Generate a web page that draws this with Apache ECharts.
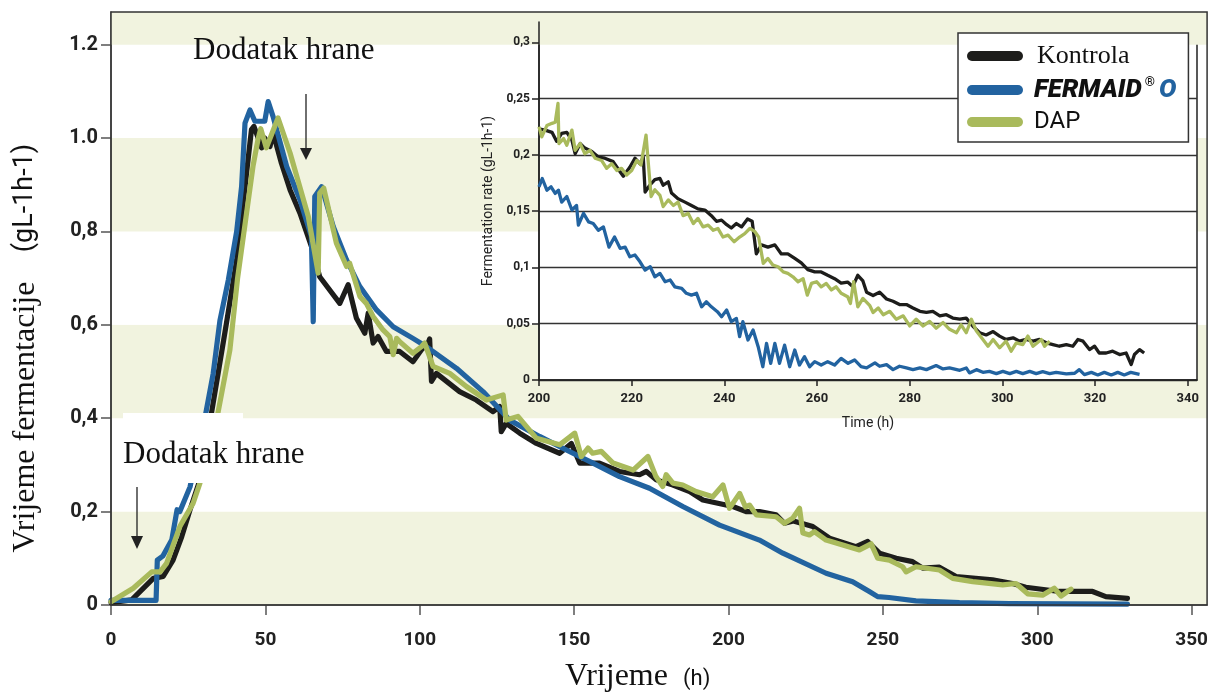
<!DOCTYPE html>
<html><head><meta charset="utf-8">
<script src="https://cdn.jsdelivr.net/npm/echarts@6/dist/echarts.min.js"></script>
<style>html,body{margin:0;padding:0;background:#fff}#c{width:1211px;height:695px}</style>
</head><body><div id="c"></div>
<script>
// ---------- main chart data (time h, rate g/L/h) ----------
const mainKontrolaT = [0,6.7,13.7,16.9,20.1,22.9,25.6,28.8,31.5,34.7,37.4,40.7,42.8,45.5,46.3,48.8,49.8,51.5,52.5,55.2,58,61.2,64.9,67.6,74.1,76.8,79.5,82.2,83.3,84.9,86.5,89.2,93.5,97.8,100.5,102.7,103.2,103.8,105.4,112.9,118.3,123.7,125.9,126.4,128,132.4,137.8,145.3,149.1,151.8,158.2,164.7,171.2,173.4,176.6,182,187.4,191.7,201.4,205.7,210,215.4,218.1,221,227.3,232.7,241.3,245.1,248.9,254.3,259.6,262.9,268.3,273.7,285.5,292,296.3,307.1,317.9,322.2,329.2];
const mainKontrolaV = [0.005,0.011,0.057,0.061,0.096,0.146,0.204,0.268,0.37,0.496,0.604,0.739,0.861,1.018,1.025,0.979,1.0,0.982,1.011,0.946,0.889,0.839,0.768,0.703,0.646,0.686,0.614,0.582,0.625,0.561,0.575,0.543,0.543,0.521,0.546,0.561,0.57,0.479,0.496,0.457,0.439,0.414,0.425,0.371,0.389,0.368,0.346,0.325,0.346,0.304,0.304,0.286,0.279,0.286,0.268,0.257,0.243,0.225,0.211,0.2,0.2,0.193,0.175,0.18,0.168,0.143,0.125,0.136,0.111,0.1,0.093,0.079,0.081,0.061,0.054,0.046,0.038,0.029,0.029,0.018,0.014];

const mainFermaidT = [0,14.6,15,16.8,19.7,21.4,22.3,25.6,30.4,33.1,35.3,38,40.7,42.3,43.4,45,46.6,49.8,50.9,52.5,56.9,61.2,64.9,65.5,66,68.2,72,76.3,80.6,86,91.4,97.8,102.2,111.9,120.5,129.1,138.8,147.5,156.1,164.7,174.4,185.2,197.1,210,217.6,231.6,240.2,245.6,248.3,252,260.7,274.8,290.9,329.2];
const mainFermaidV = [0.01,0.01,0.096,0.105,0.14,0.204,0.2,0.253,0.4,0.496,0.61,0.696,0.8,0.896,1.032,1.06,1.036,1.036,1.078,1.046,0.939,0.868,0.789,0.607,0.875,0.896,0.81,0.739,0.682,0.632,0.596,0.571,0.553,0.507,0.457,0.396,0.361,0.332,0.304,0.275,0.25,0.211,0.171,0.139,0.111,0.068,0.05,0.029,0.018,0.016,0.009,0.005,0.003,0.002];

const mainDapT = [0,7.2,13.2,15.9,18,22.3,26.6,28.8,34.2,38.5,41,43.9,46,47.7,48.5,50.3,54.1,58,63.9,67.1,67.6,68.9,73,76.3,77.3,80.6,82.7,84.9,88.1,90.3,91.4,92.5,93.5,97.8,100.5,101.6,104.3,109.7,115.1,121.6,127,128,131.8,137.8,145.3,150.2,152.3,154.5,156,158.8,162.6,169.1,173.9,176.5,178.7,179.8,182,185.2,189.5,194.9,198.2,200.3,203.6,205.5,206.8,209,215.4,218.1,220.8,223,224.1,226.2,227.8,231.6,242.4,246.2,248.3,252.1,256.4,257.5,260.7,268.3,272.6,279.1,288.8,293.1,296.9,301.7,305.5,307.7,310.9];
const mainDapV = [0.007,0.036,0.071,0.071,0.089,0.168,0.218,0.261,0.396,0.546,0.70,0.839,0.94,1.0,1.02,0.979,1.043,0.968,0.832,0.711,0.882,0.893,0.775,0.725,0.732,0.661,0.646,0.618,0.589,0.575,0.536,0.571,0.564,0.539,0.553,0.561,0.511,0.496,0.468,0.439,0.45,0.396,0.404,0.357,0.343,0.368,0.318,0.336,0.325,0.329,0.304,0.289,0.318,0.275,0.254,0.279,0.261,0.257,0.243,0.232,0.257,0.207,0.239,0.21,0.214,0.193,0.189,0.175,0.186,0.207,0.154,0.15,0.157,0.139,0.118,0.131,0.1,0.096,0.082,0.071,0.082,0.075,0.057,0.05,0.043,0.046,0.024,0.021,0.036,0.019,0.034];

// ---------- inset data (200-340 h) ----------
const insetKontrolaT = [200,201.3,202.8,203.8,204.9,206,207.1,207.8,208.9,209.9,211.4,212.8,214.2,216,217.5,218.2,219.6,220.7,221.8,222.5,222.9,223.9,225,226.1,226.8,227.9,228.6,230,231.5,232.9,234.3,235.8,237.2,238.3,239.4,240.5,241.5,242.6,243.7,245,246,246.9,248,249.4,250.9,252.3,253.7,255.2,256.6,258,259.5,260.9,262.3,263.8,265.2,266.6,267.7,268.8,269.9,270.7,272.1,273.5,275,276.4,277.8,279.3,280.7,282.2,283.6,285,286.5,287.9,289.3,290.8,292.2,293.6,295.1,296.5,298,299.4,300.8,302.3,303.7,305.1,306.6,308,309.5,310.9,312.3,313.8,315.2,316.3,317.4,318.8,319.9,320.9,322.4,323.8,325.3,326.7,327.8,328.5,329.6,330.6];
const insetKontrolaV = [0.223,0.222,0.220,0.212,0.219,0.220,0.213,0.201,0.210,0.206,0.203,0.198,0.197,0.194,0.185,0.181,0.189,0.197,0.192,0.198,0.167,0.173,0.178,0.179,0.173,0.176,0.166,0.161,0.158,0.155,0.152,0.151,0.146,0.141,0.142,0.138,0.135,0.139,0.136,0.143,0.141,0.112,0.120,0.118,0.120,0.112,0.112,0.108,0.104,0.098,0.096,0.096,0.093,0.090,0.086,0.087,0.083,0.093,0.088,0.078,0.075,0.078,0.072,0.070,0.067,0.067,0.064,0.061,0.060,0.061,0.057,0.058,0.055,0.054,0.055,0.048,0.042,0.040,0.043,0.039,0.036,0.0375,0.0345,0.036,0.0345,0.036,0.033,0.0315,0.030,0.0315,0.030,0.036,0.0345,0.027,0.030,0.024,0.024,0.0256,0.0226,0.024,0.0137,0.0226,0.027,0.024];

const insetFermaidT = [200,200.7,201.7,202.6,203.5,204.2,204.9,206,207.1,208.1,208.5,209.6,210.7,211.7,212.8,213.9,215.1,216.3,217.5,218.6,219.6,220.7,221.8,222.9,224,225,226.1,227.2,228.3,229.3,230.8,231.8,232.9,234,235.1,236.1,237.2,238.5,239.4,240.5,241.5,242.6,243.3,244,245.1,246.2,247.3,248.3,249.1,250,250.9,251.9,253,254.1,255.2,256.2,257.3,258.4,259.5,260.9,262.3,263.8,265.2,266.7,268.1,269.5,270.7,272.5,273.5,275,276.4,277.8,279.3,280.7,282.2,283.6,285.7,287.2,288.6,290.8,292.2,292.9,294.4,295.8,297.2,298.7,300.1,301.6,303,304.4,305.9,307.3,308.7,310.2,311.6,313.8,315.6,316.6,317.7,319.2,320.6,322,323.5,324.9,326.3,327.7,329.6];
const insetFermaidV = [0.1716,0.179,0.1686,0.1716,0.1657,0.1686,0.158,0.163,0.151,0.155,0.1376,0.148,0.1405,0.139,0.133,0.136,0.118,0.127,0.117,0.118,0.1095,0.111,0.105,0.0976,0.1006,0.0917,0.0947,0.0873,0.0888,0.0828,0.0814,0.077,0.0754,0.077,0.065,0.0695,0.065,0.0607,0.0562,0.0621,0.0518,0.0547,0.0385,0.0518,0.0355,0.0444,0.0296,0.0118,0.0325,0.0148,0.0325,0.0148,0.031,0.0118,0.0266,0.0133,0.0207,0.0118,0.0163,0.0133,0.0163,0.0133,0.0192,0.0148,0.0178,0.0118,0.0107,0.0152,0.0122,0.0137,0.0092,0.0122,0.0107,0.0092,0.0107,0.0092,0.0128,0.0098,0.0107,0.0086,0.0107,0.0063,0.0092,0.0068,0.0077,0.0057,0.0077,0.0057,0.0077,0.0057,0.0077,0.0057,0.0074,0.0057,0.0068,0.0054,0.006,0.0092,0.0048,0.0068,0.0045,0.0068,0.0045,0.0068,0.0045,0.0068,0.005];

const insetDapT = [200,200.6,201.7,202.8,203.5,204.1,204.3,205.3,206,207.1,207.8,208.9,209.9,211,212.1,213.5,214.6,215.7,216.8,217.8,218.9,220,221.1,222,223.1,223.6,224.2,225,226.1,226.8,227.9,229,230,231.1,232.2,233.3,234.3,235.4,236.5,237.6,238.6,239.7,240.8,242.1,243.3,244.4,245.5,246.6,247.4,248.4,249.4,250.5,251.6,252.7,253.7,254.8,255.9,257,257.9,258.8,259.9,260.9,262,263.1,264.1,265.2,266.6,267.2,267.9,268.8,269.9,271.4,272.1,273.2,274.3,275.7,277.1,278.6,280,281.4,282.9,284.3,285.7,287.2,288.6,290.1,291.1,292.2,293.3,294.4,295.8,296.9,298,299.4,300.8,301.9,303,304.4,305.5,306.6,308.4,309.1,310.2];
const insetDapV = [0.225,0.216,0.226,0.228,0.229,0.2456,0.210,0.2145,0.2086,0.222,0.204,0.210,0.201,0.204,0.197,0.195,0.188,0.192,0.186,0.188,0.182,0.186,0.195,0.191,0.2175,0.192,0.163,0.169,0.164,0.154,0.160,0.155,0.158,0.146,0.148,0.139,0.1435,0.136,0.1376,0.133,0.1346,0.127,0.1287,0.1228,0.127,0.130,0.1346,0.1317,0.127,0.1036,0.108,0.102,0.1006,0.096,0.0947,0.0917,0.0873,0.090,0.0754,0.0858,0.0873,0.0828,0.0858,0.080,0.0828,0.077,0.074,0.068,0.0873,0.065,0.0725,0.066,0.060,0.064,0.058,0.061,0.054,0.057,0.048,0.054,0.048,0.052,0.046,0.051,0.045,0.042,0.049,0.042,0.054,0.0435,0.036,0.030,0.036,0.0286,0.0345,0.0256,0.033,0.0315,0.039,0.030,0.036,0.030,0.0345];

// ---------- ticks / labels ----------
const mainXTicks = [0,50,100,150,200,250,300,350];
const mainYTicks = [0,0.2,0.4,0.6,0.8,1.0,1.2];
const mainYTickLabels = ['0','0,2','0,4','0,6','0,8','1.0','1.2'];
const mainYMax = 1.27;
const insetXTicks = [200,220,240,260,280,300,320,340];
const insetYTicks = [0,0.05,0.1,0.15,0.2,0.25,0.3];
const insetYTickLabels = ['0','0,05','0,1','0,15','0,2','0,25','0,3'];
const seriesNames = ['Kontrola','FERMAID® O','DAP'];

const C_BLACK = '#1d1d1b', C_BLUE = '#2263a0', C_GREEN = '#a9ba5c', BAND = '#f1f3df';
const zip = (t, v) => t.map((x, i) => [x, v[i]]);

const chart = echarts.init(document.getElementById('c'), null, {renderer: 'canvas'});
const lblFont = {fontFamily: 'Roboto', fontWeight: 'bold', color: '#222'};

function mainLine(name, t, v, color, z, extra) {
  return Object.assign({name, type: 'line', xAxisIndex: 0, yAxisIndex: 0, data: zip(t, v), showSymbol: false,
    lineStyle: {color, width: 5.2, join: 'round', cap: 'round'}, itemStyle: {color}, z, silent: true}, extra || {});
}
function insetLine(name, t, v, color, z) {
  return {name, type: 'line', xAxisIndex: 1, yAxisIndex: 1, data: zip(t, v), showSymbol: false,
    lineStyle: {color, width: 3.3, join: 'round'}, itemStyle: {color}, z, silent: true};
}

chart.setOption({
  animation: false,
  backgroundColor: '#fff',
  grid: [
    {left: 111, top: 12, width: 1097, height: 593, show: true, backgroundColor: 'transparent', borderColor: '#333', borderWidth: 1.5, z: 7},
    {left: 539, top: 22, width: 658, height: 358, show: true, backgroundColor: '#fff', borderColor: '#222', borderWidth: 1.5, z: 1}
  ],
  xAxis: [
    {type: 'value', gridIndex: 0, min: 0, max: 355, interval: 50, z: 0,
      axisLine: {show: true, lineStyle: {color: '#555', width: 1.5}},
      axisTick: {show: true, length: 10, customValues: mainXTicks, lineStyle: {color: '#555', width: 1.5}},
      axisLabel: {margin: 26, fontSize: 19, customValues: mainXTicks, ...lblFont},
      splitLine: {show: false}},
    {type: 'value', gridIndex: 1, min: 200, max: 342, interval: 20, z: 1,
      name: 'Time (h)', nameLocation: 'middle', nameGap: 36,
      nameTextStyle: {fontFamily: 'Roboto', fontSize: 14, color: '#222'},
      axisLine: {show: true, lineStyle: {color: '#222', width: 1.5}},
      axisTick: {show: true, length: 6, customValues: insetXTicks, lineStyle: {color: '#222', width: 1.5}},
      axisLabel: {margin: 12, fontSize: 13, customValues: insetXTicks, ...lblFont},
      splitLine: {show: false}}
  ],
  yAxis: [
    {type: 'value', gridIndex: 0, min: 0, max: mainYMax, interval: 0.2, z: 0,
      axisLine: {show: true, lineStyle: {color: '#555', width: 1.5}},
      axisTick: {show: true, length: 10, customValues: mainYTicks, lineStyle: {color: '#555', width: 1.5}},
      axisLabel: {margin: 13, fontSize: 20, customValues: mainYTicks, ...lblFont,
        formatter: v => mainYTickLabels[Math.round(v / 0.2)]},
      splitLine: {show: false},
      splitArea: {show: true, areaStyle: {color: [BAND, '#ffffff']}}},
    {type: 'value', gridIndex: 1, min: 0, max: 0.318, interval: 0.05, z: 1,
      name: 'Fermentation rate (gL-1h-1)', nameLocation: 'middle', nameGap: 44, nameRotate: 90,
      nameTextStyle: {fontFamily: 'Roboto', fontSize: 14, color: '#222'},
      axisLine: {show: true, lineStyle: {color: '#222', width: 1.5}},
      axisTick: {show: true, length: 7, customValues: insetYTicks, lineStyle: {color: '#222', width: 1.5}},
      axisLabel: {margin: 9, fontSize: 12, customValues: insetYTicks, ...lblFont,
        formatter: v => insetYTickLabels[Math.round(v / 0.05)]},
      splitLine: {show: true, lineStyle: {color: '#333', width: 1.3}},
      splitArea: {show: false}}
  ],
  legend: {
    show: true, orient: 'vertical', left: 958, top: 33, selectedMode: false,
    data: seriesNames, itemWidth: 56, itemHeight: 10, itemGap: 7,
    icon: 'path://M5,0 L51,0 A5,5 0 0 1 51,10 L5,10 A5,5 0 0 1 5,0 Z',
    backgroundColor: '#fff', borderColor: '#333', borderWidth: 1.5, padding: [10, 12, 8, 9],
    formatter: n => n === 'Kontrola' ? '{k|Kontrola}' : (n === 'DAP' ? '{d|DAP}' : '{f|FERMAID}{r|®}{o|O}'),
    textStyle: {
      rich: {
        k: {fontFamily: 'Liberation Serif', fontSize: 26, color: '#111', lineHeight: 28, padding: [0, 0, 0, 9]},
        f: {fontFamily: 'Roboto', fontStyle: 'italic', fontWeight: 900, fontSize: 26, color: '#111', lineHeight: 28, padding: [0, 0, 0, 6]},
        r: {fontFamily: 'Roboto', fontWeight: 'bold', fontSize: 13, color: '#111', lineHeight: 12, verticalAlign: 'top', padding: [0, 4, 0, 3]},
        o: {fontFamily: 'Roboto', fontStyle: 'italic', fontWeight: 900, fontSize: 26, color: C_BLUE, lineHeight: 28},
        d: {fontFamily: 'Roboto', fontSize: 24, color: '#111', lineHeight: 28, padding: [0, 0, 0, 6]}
      }
    }
  },
  graphic: [
    {type: 'rect', z: 10, silent: true, shape: {x: 123, y: 413, width: 120, height: 70}, style: {fill: '#fff'}},
    {type: 'text', z: 11, silent: true, x: 193, y: 51, style: {text: 'Dodatak hrane', fontFamily: 'Liberation Serif', fontSize: 31, fill: '#111', textAlign: 'left', textVerticalAlign: 'middle'}},
    {type: 'text', z: 11, silent: true, x: 123, y: 455, style: {text: 'Dodatak hrane', fontFamily: 'Liberation Serif', fontSize: 31, fill: '#111', textAlign: 'left', textVerticalAlign: 'middle'}},
    {type: 'line', z: 11, silent: true, shape: {x1: 306, y1: 94, x2: 306, y2: 150}, style: {stroke: '#222', lineWidth: 1.3}},
    {type: 'polygon', z: 11, silent: true, shape: {points: [[300, 148], [312, 148], [306, 160]]}, style: {fill: '#222'}},
    {type: 'line', z: 11, silent: true, shape: {x1: 137, y1: 487, x2: 137, y2: 538}, style: {stroke: '#222', lineWidth: 1.3}},
    {type: 'polygon', z: 11, silent: true, shape: {points: [[131, 536], [143, 536], [137, 549]]}, style: {fill: '#222'}},
    {type: 'text', z: 11, silent: true, x: 26, y: 417, rotation: Math.PI / 2, style: {text: 'Vrijeme fermentacije', fontFamily: 'Liberation Serif', fontSize: 32, fill: '#111', textAlign: 'center', textVerticalAlign: 'middle'}},
    {type: 'text', z: 11, silent: true, x: 25, y: 198, rotation: Math.PI / 2, style: {text: '(gL-1h-1)', fontFamily: 'Roboto', fontSize: 27, fill: '#111', textAlign: 'center', textVerticalAlign: 'middle'}},
    {type: 'text', z: 11, silent: true, x: 565, y: 677, style: {text: 'Vrijeme', fontFamily: 'Liberation Serif', fontSize: 32, fill: '#111', textAlign: 'left', textVerticalAlign: 'middle'}},
    {type: 'text', z: 11, silent: true, x: 683, y: 679, style: {text: '(h)', fontFamily: 'Roboto', fontSize: 22, fill: '#111', textAlign: 'left', textVerticalAlign: 'middle'}}
  ],
  series: [
    mainLine('Kontrola', mainKontrolaT, mainKontrolaV, C_BLACK, 2, {
      markArea: {silent: true, itemStyle: {color: BAND}, data: [[{yAxis: mainYTicks[mainYTicks.length - 1]}, {yAxis: mainYMax}]]}
    }),
    mainLine('FERMAID® O', mainFermaidT, mainFermaidV, C_BLUE, 3),
    mainLine('DAP', mainDapT, mainDapV, C_GREEN, 4),
    insetLine('Kontrola', insetKontrolaT, insetKontrolaV, C_BLACK, 5),
    insetLine('FERMAID® O', insetFermaidT, insetFermaidV, C_BLUE, 5),
    insetLine('DAP', insetDapT, insetDapV, C_GREEN, 6)
  ]
});
</script></body></html>
